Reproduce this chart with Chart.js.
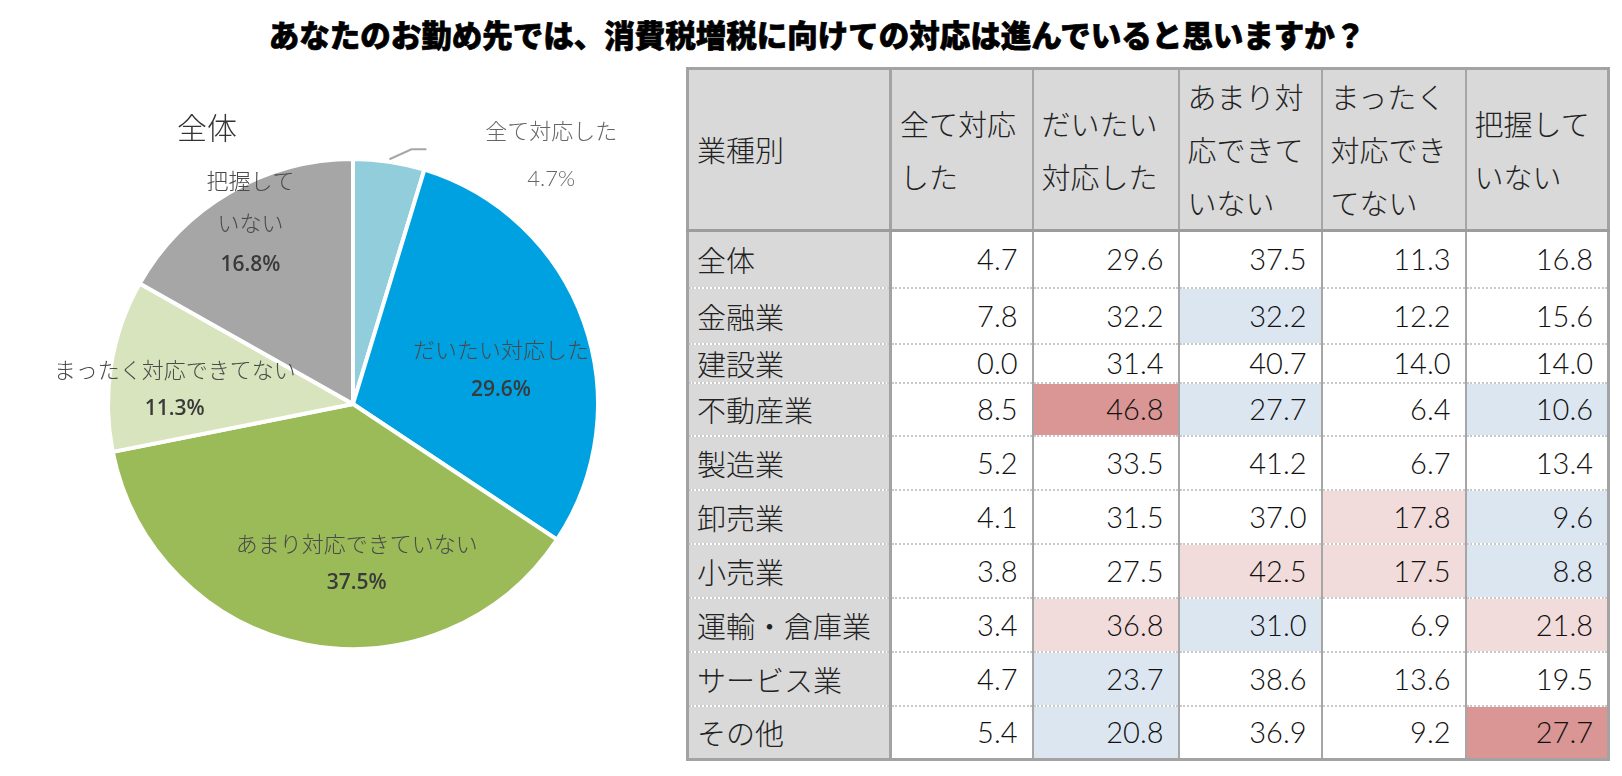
<!DOCTYPE html>
<html lang="ja">
<head>
<meta charset="utf-8">
<script src="https://cdn.jsdelivr.net/npm/chart.js@4.4.1/dist/chart.umd.min.js"></script>
<style>
html, body { margin: 0; padding: 0; background: #fff; }
body { width: 1622px; height: 776px; position: relative; overflow: hidden; font-family: "Noto Sans CJK JP Light", "Noto Sans CJK JP DemiLight", "Noto Sans CJK JP", sans-serif; }
#title { position: absolute; left: 0; top: 13px; width: 1634px; text-align: center; font-family: "Noto Sans CJK JP Black", "Noto Sans CJK JP", sans-serif; font-size: 30.5px; font-weight: 900; line-height: 42px; color: #000; -webkit-text-stroke: 0.7px #000; }
#pieWrap { position: absolute; left: 0; top: 60px; width: 660px; height: 700px; }
#pieName { position: absolute; left: 157px; top: 104px; width: 100px; text-align: center; font-size: 30px; font-weight: 300; line-height: 44px; color: #333; }
#tbl { position: absolute; left: 686px; top: 67px; width: 921px; border-collapse: collapse; table-layout: fixed; border: 3px solid #a3a3a3; }
#tbl th, #tbl td { padding: 0; font-weight: 300; color: #222; white-space: nowrap; overflow: hidden; }
#tbl th { background: #d9d9d9; text-align: left; vertical-align: middle; font-size: 29px; line-height: 53px; padding-left: 8px; border-left: 2px solid #a6a6a6; border-bottom: 3px solid #9c9c9c; }
#tbl td { border-left: 2px solid #a6a6a6; border-bottom: 2px dotted #c9c9c9; line-height: 32px; }
#tbl td.ind { background: #d9d9d9; font-size: 29px; padding-left: 8px; text-align: left; border-left: 3px solid #a3a3a3; border-right: 3px solid #a3a3a3; }
#tbl td.num { font-family: "Lato", "Open Sans", sans-serif; font-size: 29px; text-align: right; padding-right: 14px; color: #111; }
#tbl th.first { border-right: 3px solid #a3a3a3; }
#tbl td.H { background: #da9694; }
#tbl td.h { background: #f2dcdb; }
#tbl td.l { background: #dce6f1; }
</style>
</head>
<body>
<div id="title">あなたのお勤め先では、消費税増税に向けての対応は進んでいると思いますか？</div>
<div id="pieWrap"><canvas id="pieChart"></canvas></div>
<div id="pieName">全体</div>
<table id="tbl"></table>
<script>
// 全体の回答（円グラフ）
const categories = ['全て対応した', 'だいたい対応した', 'あまり対応できていない', 'まったく対応できてない', '把握していない'];
const overall = [4.7, 29.6, 37.5, 11.3, 16.8];
const pieLabelLines = [['全て対応した'], ['だいたい対応した'], ['あまり対応できていない'], ['まったく対応できてない'], ['把握して', 'いない']];

// 業種別の表
const headerTitle = '業種別';
const headerLines = [['全て対応', 'した'], ['だいたい', '対応した'], ['あまり対', '応できて', 'いない'], ['まったく', '対応でき', 'てない'], ['把握して', 'いない']];
const industries = ['全体', '金融業', '建設業', '不動産業', '製造業', '卸売業', '小売業', '運輸・倉庫業', 'サービス業', 'その他'];
const allDone = [4.7, 7.8, 0.0, 8.5, 5.2, 4.1, 3.8, 3.4, 4.7, 5.4];
const mostlyDone = [29.6, 32.2, 31.4, 46.8, 33.5, 31.5, 27.5, 36.8, 23.7, 20.8];
const notMuch = [37.5, 32.2, 40.7, 27.7, 41.2, 37.0, 42.5, 31.0, 38.6, 36.9];
const notAtAll = [11.3, 12.2, 14.0, 6.4, 6.7, 17.8, 17.5, 6.9, 13.6, 9.2];
const unknown = [16.8, 15.6, 14.0, 10.6, 13.4, 9.6, 8.8, 21.8, 19.5, 27.7];
// H = かなり高い, h = 高い, l = 低い, - = なし
const marks = ['-----', '--l--', '-----', '-Hl-l', '-----', '---hl', '--hhl', '-hl-h', '-l---', '-l--H'];

// table
const colWidths = [203, 142, 146, 143, 144, 143];
const rowHeights = [57, 56, 39, 53, 54, 54, 54, 54, 54, 54];
const series = [allDone, mostlyDone, notMuch, notAtAll, unknown];
let html = '<colgroup>' + colWidths.map(w => '<col style="width:' + w + 'px">').join('') + '</colgroup>';
html += '<tr style="height:158px"><th class="first">' + headerTitle + '</th>';
headerLines.forEach(lines => { html += '<th>' + lines.join('<br>') + '</th>'; });
html += '</tr>';
industries.forEach((name, i) => {
    html += '<tr style="height:' + rowHeights[i] + 'px"><td class="ind">' + name + '</td>';
    series.forEach((s, j) => {
        const m = marks[i][j];
        html += '<td class="num ' + (m === '-' ? '' : m) + '">' + s[i].toFixed(1) + '</td>';
    });
    html += '</tr>';
});
document.getElementById('tbl').innerHTML = html;

// label placement per slice: angle shift (deg), radius factor, gap between lines
const labelPlace = [
    { shift: 30, f: 1.30, gap: 48, outside: true },
    { shift: 6.8, f: 0.62, gap: 40 },
    { shift: -12.5, f: 0.65, gap: 39 },
    { shift: -4.3, f: 0.73, gap: 39 },
    { shift: 0.8, f: 0.85, gap: 42 }
];

const pieLabels = {
    id: 'pieLabels',
    afterDatasetsDraw(chart) {
        const ctx = chart.ctx;
        const meta = chart.getDatasetMeta(0);
        ctx.save();
        ctx.textAlign = 'center';
        ctx.textBaseline = 'middle';
        meta.data.forEach((arc, i) => {
            const p = arc.getProps(['x', 'y', 'startAngle', 'endAngle', 'outerRadius'], true);
            const place = labelPlace[i];
            const mid = (p.startAngle + p.endAngle) / 2;
            const a = mid + place.shift * Math.PI / 180;
            const cx = p.x + Math.cos(a) * p.outerRadius * place.f;
            const cy = p.y + Math.sin(a) * p.outerRadius * place.f;
            const lines = pieLabelLines[i];
            const n = lines.length + 1;
            let y = cy - (n - 1) * place.gap / 2;
            ctx.fillStyle = place.outside ? '#666' : '#4a4a4a';
            ctx.font = '300 22px "Noto Sans CJK JP Light", "Noto Sans CJK JP"';
            lines.forEach(t => { ctx.fillText(t, cx, y); y += place.gap; });
            ctx.font = place.outside ? '300 22px "Lato", "Open Sans"' : '600 21px "Open Sans"';
            ctx.fillStyle = place.outside ? '#666' : '#3a3a3a';
            ctx.fillText(overall[i].toFixed(1) + '%', cx, y);
            if (place.outside) {
                const x0 = p.x + Math.cos(mid) * p.outerRadius * 1.01;
                const y0 = p.y + Math.sin(mid) * p.outerRadius * 1.01;
                ctx.strokeStyle = '#a6a6a6';
                ctx.lineWidth = 2;
                ctx.beginPath();
                ctx.moveTo(x0, y0);
                ctx.lineTo(x0 + 22, y0 - 10);
                ctx.lineTo(x0 + 37, y0 - 10);
                ctx.stroke();
            }
        });
        ctx.restore();
    }
};

new Chart(document.getElementById('pieChart'), {
    type: 'pie',
    data: {
        labels: categories,
        datasets: [{
            data: overall,
            backgroundColor: ['#92cddc', '#00a1e0', '#9bbb59', '#d7e4bd', '#a6a6a6'],
            borderColor: '#ffffff',
            borderWidth: 4
        }]
    },
    options: {
        responsive: true,
        maintainAspectRatio: false,
        animation: false,
        layout: { padding: { left: 106, right: 60, top: 97, bottom: 109 } },
        plugins: {
            legend: { display: false },
            tooltip: { enabled: false },
            title: { display: false }
        }
    },
    plugins: [pieLabels]
});
</script>
</body>
</html>
